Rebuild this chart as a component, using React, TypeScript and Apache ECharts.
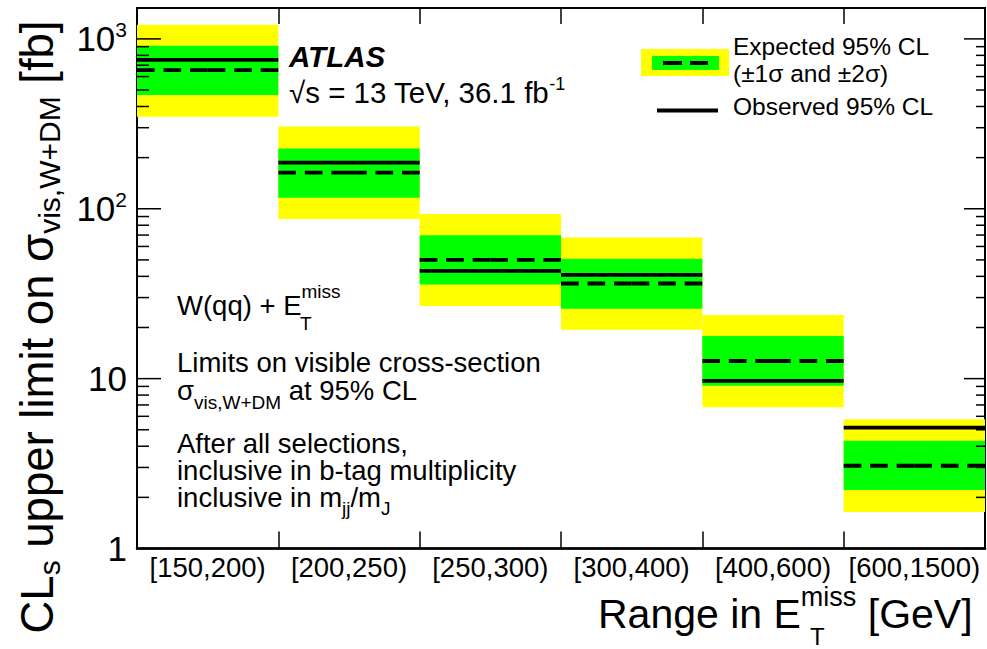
import React, { useEffect, useRef } from 'react';
import * as echarts from 'echarts';

const categories = ['[150,200)', '[200,250)', '[250,300)', '[300,400)', '[400,600)', '[600,1500)'];
const observed = [753, 187, 43.1, 40.8, 9.7, 5.15];
const expected = [655, 163, 50.0, 36.3, 12.7, 3.07];
const minus1Sigma = [467, 116, 35.8, 25.8, 9.09, 2.21];
const plus1Sigma = [910, 226, 69.9, 50.7, 17.8, 4.31];
const minus2Sigma = [348, 86.9, 26.8, 19.4, 6.79, 1.64];
const plus2Sigma = [1211, 305, 93.3, 67.7, 23.7, 5.77];
const majorTicks = [1, 10, 100, 1000];
const minorTicks = [2, 3, 4, 5, 6, 7, 8, 9, 20, 30, 40, 50, 60, 70, 80, 90, 200, 300, 400, 500, 600, 700, 800, 900];

const FONT = '"Liberation Sans", Arial, Helvetica, sans-serif';
const BLACK = '#000000';
const YELLOW = '#ffff00';
const GREEN = '#00ff00';

// rich style helper: main font fs, sub/sup font sfs, shift d (px between glyph centres)
function richStyles(fs: number, sfs: number, d: number) {
  const H = 2 * d + sfs;
  return {
    m: { fontSize: fs, lineHeight: H, fontFamily: FONT, fill: BLACK, color: BLACK, verticalAlign: 'middle' },
    b: { fontSize: sfs, fontFamily: FONT, fill: BLACK, color: BLACK, verticalAlign: 'bottom' },
    p: { fontSize: sfs, fontFamily: FONT, fill: BLACK, color: BLACK, verticalAlign: 'top' },
  };
}

function richText(x: number, baseline: number, text: string, fs: number, sfs: number, d: number) {
  return {
    type: 'text',
    x,
    y: baseline - 0.347 * fs,
    silent: true,
    style: {
      text,
      rich: richStyles(fs, sfs, d),
      align: 'left',
      verticalAlign: 'middle',
      fill: BLACK,
    },
  };
}

function plainText(x: number, baseline: number, text: string, fs: number, extraStyle: any = {}) {
  return {
    type: 'text',
    x,
    y: baseline - 0.347 * fs,
    silent: true,
    style: {
      text,
      fontSize: fs,
      fontFamily: FONT,
      fill: BLACK,
      align: 'left',
      verticalAlign: 'middle',
      ...extraStyle,
    },
  };
}

export default function App() {
  const ref = useRef<HTMLDivElement>(null);
  useEffect(() => {
    if (!ref.current) return;
    const chart = echarts.init(ref.current, null, { renderer: 'svg' });
    const nBins = categories.length;

    const bandData = categories.map((_, i) => [
      i, minus2Sigma[i], plus2Sigma[i], minus1Sigma[i], plus1Sigma[i], expected[i], observed[i],
    ]);
    const tickData = [
      ...majorTicks.map((v) => [0, v, 1]),
      ...minorTicks.map((v) => [0, v, 0]),
    ];

    const option: any = {
      animation: false,
      backgroundColor: '#ffffff',
      grid: {
        left: 137, right: 2, top: 8, bottom: 100.5,
        show: true, borderColor: BLACK, borderWidth: 2, backgroundColor: 'transparent',
      },
      xAxis: [
        {
          type: 'category', data: categories, position: 'bottom', boundaryGap: true,
          axisLine: { show: true, lineStyle: { color: BLACK, width: 2.5 } },
          axisTick: { show: true, inside: true, length: 17, lineStyle: { color: BLACK, width: 1.5 } },
          axisLabel: { show: true, interval: 0, fontSize: 27.5, fontFamily: FONT, color: BLACK, margin: 5 },
          splitLine: { show: false },
        },
        {
          type: 'category', data: categories, position: 'top', boundaryGap: true,
          axisLine: { show: true, lineStyle: { color: BLACK, width: 2 } },
          axisTick: { show: true, inside: true, length: 16, lineStyle: { color: BLACK, width: 1.5 } },
          axisLabel: { show: false },
          splitLine: { show: false },
        },
      ],
      yAxis: [
        {
          type: 'log', logBase: 10, min: 1, max: 1520,
          axisLine: { show: true, lineStyle: { color: BLACK, width: 2 } },
          axisTick: { show: false },
          minorTick: { show: false },
          splitLine: { show: false },
          axisLabel: {
            show: true, margin: 10, showMaxLabel: false, showMinLabel: true,
            formatter: (val: number) => {
              const e = Math.round(Math.log10(val));
              if (Math.abs(val - Math.pow(10, e)) > 1e-6 * val) return '';
              if (e === 0) return '{m|1}';
              if (e === 1) return '{m|10}';
              return `{m|10}{s|${e}}`;
            },
            rich: {
              m: { fontSize: 35, lineHeight: 40, fontFamily: FONT, color: BLACK },
              s: { fontSize: 21, verticalAlign: 'top', fontFamily: FONT, color: BLACK },
            },
          },
        },
      ],
      series: [
        {
          type: 'custom',
          xAxisIndex: 0, yAxisIndex: 0,
          data: bandData,
          encode: { x: 0, y: [1, 2] },
          silent: true,
          renderItem: (params: any, api: any) => {
            const i = api.value(0);
            const cx = api.coord([i, 1])[0];
            const half = params.coordSys.width / nBins / 2;
            const yv = (v: number) => api.coord([i, v])[1];
            const y2lo = yv(api.value(1)), y2hi = yv(api.value(2));
            const y1lo = yv(api.value(3)), y1hi = yv(api.value(4));
            const yExp = yv(api.value(5)), yObs = yv(api.value(6));
            const dash = half * 0.25;
            const gap = half * 0.125;
            return {
              type: 'group',
              children: [
                { type: 'rect', shape: { x: cx - half, y: y2hi, width: 2 * half, height: y2lo - y2hi }, style: { fill: YELLOW } },
                { type: 'rect', shape: { x: cx - half, y: y1hi, width: 2 * half, height: y1lo - y1hi }, style: { fill: GREEN } },
                { type: 'line', shape: { x1: cx - half, y1: yObs, x2: cx + half, y2: yObs }, style: { stroke: BLACK, lineWidth: 3.8 } },
                { type: 'line', shape: { x1: cx - half, y1: yExp, x2: cx, y2: yExp }, style: { stroke: BLACK, lineWidth: 3.8, lineDash: [dash, gap] } },
                { type: 'line', shape: { x1: cx, y1: yExp, x2: cx + half, y2: yExp }, style: { stroke: BLACK, lineWidth: 3.8, lineDash: [dash, gap] } },
              ],
            };
          },
          z: 2,
        },
        {
          type: 'custom',
          xAxisIndex: 0, yAxisIndex: 0,
          data: tickData,
          encode: { x: 0, y: 1 },
          silent: true,
          renderItem: (params: any, api: any) => {
            const y = api.coord([0, api.value(1)])[1];
            const major = api.value(2) === 1;
            const x0 = params.coordSys.x;
            const x1 = x0 + params.coordSys.width;
            const lenL = major ? 24 : 12;
            const lenR = major ? 21 : 9;
            return {
              type: 'group',
              children: [
                { type: 'line', shape: { x1: x0, y1: y, x2: x0 + lenL, y2: y }, style: { stroke: BLACK, lineWidth: 1.5 } },
                { type: 'line', shape: { x1: x1 - lenR, y1: y, x2: x1, y2: y }, style: { stroke: BLACK, lineWidth: 1.5 } },
              ],
            };
          },
          z: 3,
        },
      ],
      graphic: [
        // Y axis title (rotated)
        {
          type: 'text',
          x: 37, y: 327, rotation: Math.PI / 2, silent: true,
          style: {
            text: '{m|CL}{b|s}{m| upper limit on σ}{b|vis,W+DM}{m| [fb]}',
            rich: richStyles(45.5, 30, 12),
            align: 'center', verticalAlign: 'middle', fill: BLACK,
          },
        },
        // X axis title
        richText(598, 628, '{m|Range in E}{p|miss}{m| [GeV]}', 41, 27, 17),
        plainText(810, 645, 'T', 24),
        // ATLAS label
        plainText(289, 67, 'ATLAS', 29.5, { fontWeight: 'bold', fontStyle: 'italic' }),
        richText(289, 103, '{m|√s = 13 TeV, 36.1 fb}{p|-1}', 29.5, 18, 9),
        // Legend
        { type: 'rect', silent: true, shape: { x: 641, y: 49, width: 88, height: 27 }, style: { fill: YELLOW } },
        { type: 'rect', silent: true, shape: { x: 652, y: 56, width: 67, height: 14 }, style: { fill: GREEN } },
        { type: 'line', silent: true, shape: { x1: 663, y1: 63, x2: 682, y2: 63 }, style: { stroke: BLACK, lineWidth: 4 } },
        { type: 'line', silent: true, shape: { x1: 690, y1: 63, x2: 708, y2: 63 }, style: { stroke: BLACK, lineWidth: 4 } },
        { type: 'line', silent: true, shape: { x1: 657, y1: 110.5, x2: 718, y2: 110.5 }, style: { stroke: BLACK, lineWidth: 4 } },
        plainText(733, 55, 'Expected 95% CL', 24.5),
        plainText(733, 82, '(±1σ and ±2σ)', 24.5),
        plainText(733, 115, 'Observed 95% CL', 24.5),
        // Left annotation block
        richText(177, 315, '{m|W(qq) + E}{p|miss}', 27.5, 19, 14),
        plainText(300, 330, 'T', 19),
        plainText(177, 372, 'Limits on visible cross-section', 27.5),
        richText(177, 400, '{m|σ}{b|vis,W+DM}{m| at 95% CL}', 27.5, 19, 12),
        plainText(177, 453, 'After all selections,', 27.5),
        plainText(177, 480, 'inclusive in b-tag multiplicity', 27.5),
        richText(177, 507, '{m|inclusive in m}{b|jj}{m|/m}{b|J}', 27.5, 19, 11),
      ],
    };
    chart.setOption(option);
    return () => chart.dispose();
  }, []);
  return <div ref={ref} style={{ position: 'fixed', left: 0, top: 0, width: 987, height: 649 }} />;
}
